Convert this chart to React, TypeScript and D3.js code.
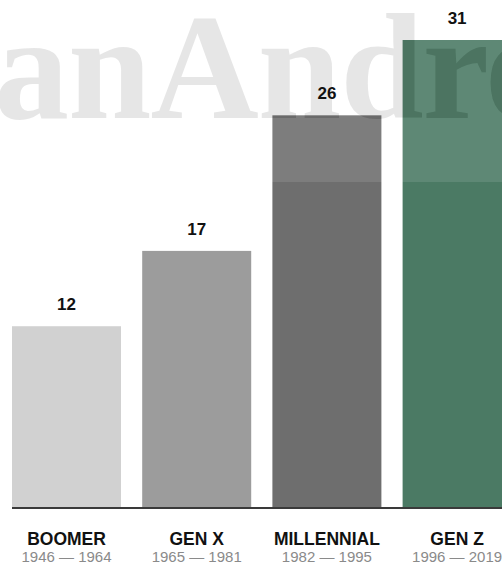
import React from "react";
import * as d3 from "d3";

const categories = ["BOOMER", "GEN X", "MILLENNIAL", "GEN Z"];
const years = ["1946 — 1964", "1965 — 1981", "1982 — 1995", "1996 — 2019"];
const values = [12, 17, 26, 31];
const colors = ["#d1d1d1", "#9c9c9c", "#6e6e6e", "#4b7a64"];
const watermark = "anAndre";

const W = 502;
const H = 573;
const baseY = 507;

export default function App() {
  const x = d3
    .scaleBand<string>()
    .domain(categories)
    .range([12, 12 + 3 * 130.2 + 109])
    .paddingInner(21.2 / 130.2)
    .paddingOuter(0);
  const y = d3.scaleLinear().domain([0, 31]).range([baseY, 40]);

  const wmProps = {
    x: -6,
    y: 118,
    fontFamily: "Liberation Serif, serif",
    fontWeight: "bold" as const,
    fontSize: 150,
    letterSpacing: -1,
  };

  return (
    <svg
      width={W}
      height={H}
      style={{ position: "absolute", left: 0, top: 0, background: "#fff" }}
    >
      <defs>
        <mask id="wmMask">
          <rect x={0} y={0} width={W} height={182} fill="#fff" />
          <text {...wmProps} fill="#000">
            {watermark}
          </text>
        </mask>
      </defs>
      <rect width={W} height={H} fill="#fff" />
      {categories.map((c, i) => (
        <rect
          key={c}
          x={x(c)}
          y={y(values[i])}
          width={x.bandwidth()}
          height={baseY - y(values[i])}
          fill={colors[i]}
        />
      ))}
      <line x1={12} x2={W} y1={508} y2={508} stroke="#3a3a3a" strokeWidth={2} />
      <rect
        x={0}
        y={0}
        width={W}
        height={182}
        fill="#fff"
        fillOpacity={0.11}
        mask="url(#wmMask)"
      />
      <text {...wmProps} fill="rgb(82,82,82)" fillOpacity={0.145}>
        {watermark}
      </text>
      {categories.map((c, i) => (
        <text
          key={"v" + c}
          x={(x(c) as number) + x.bandwidth() / 2}
          y={y(values[i]) - 16}
          textAnchor="middle"
          fontFamily="Liberation Sans, Arial, sans-serif"
          fontWeight="bold"
          fontSize={17}
          fill="#111"
        >
          {values[i]}
        </text>
      ))}
      {categories.map((c, i) => (
        <text
          key={"c" + c}
          x={(x(c) as number) + x.bandwidth() / 2}
          y={545}
          textAnchor="middle"
          fontFamily="Liberation Sans, Arial, sans-serif"
          fontWeight="bold"
          fontSize={17.5}
          fill="#111"
        >
          {c}
        </text>
      ))}
      {categories.map((c, i) => (
        <text
          key={"y" + c}
          x={(x(c) as number) + x.bandwidth() / 2}
          y={562}
          textAnchor="middle"
          fontFamily="Liberation Sans, Arial, sans-serif"
          fontSize={15}
          fill="#8a8a8a"
        >
          {years[i]}
        </text>
      ))}
    </svg>
  );
}
